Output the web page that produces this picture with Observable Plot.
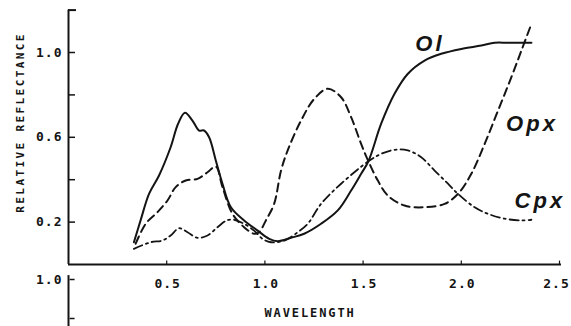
<!DOCTYPE html>
<html><head><meta charset="utf-8">
<script src="https://cdn.jsdelivr.net/npm/d3@7"></script>
<script src="https://cdn.jsdelivr.net/npm/@observablehq/plot@0.6"></script>
<style>
body{margin:0;background:#fff}
#wrap{position:relative;width:571px;height:326px;overflow:hidden}
#wrap svg{position:absolute;left:0;top:0}
[aria-label="ticklabels"], [aria-label="ticklabels"] text{letter-spacing:1px}
[aria-label="xlabel"], [aria-label="xlabel"] text{letter-spacing:1.9px}
[aria-label="ylabel"], [aria-label="ylabel"] text{letter-spacing:2.4px}
[aria-label="serieslabels"], [aria-label="serieslabels"] text{letter-spacing:3px}
</style></head><body><div id="wrap"></div>
<script>
// ---- data ----
const olWavelength = [0.333,0.367,0.410,0.461,0.520,0.558,0.593,0.631,0.665,0.690,0.716,0.750,0.784,0.827,0.894,0.963,1.022,1.065,1.133,1.200,1.286,1.371,1.439,1.490,1.527,1.592,1.660,1.728,1.813,1.898,2.000,2.102,2.170,2.238,2.357];
const olReflectance = [0.105,0.208,0.333,0.420,0.553,0.664,0.716,0.679,0.632,0.632,0.600,0.491,0.381,0.270,0.208,0.160,0.121,0.110,0.126,0.145,0.192,0.255,0.349,0.428,0.487,0.664,0.805,0.900,0.962,0.994,1.017,1.033,1.046,1.046,1.046];

const opxWavelength = [0.342,0.393,0.453,0.504,0.546,0.597,0.657,0.708,0.750,0.784,0.835,0.894,0.945,0.969,1.005,1.047,1.082,1.116,1.184,1.252,1.320,1.388,1.439,1.490,1.527,1.575,1.626,1.711,1.813,1.915,1.983,2.051,2.119,2.187,2.255,2.306,2.357];
const opxReflectance = [0.098,0.192,0.247,0.302,0.365,0.396,0.404,0.435,0.462,0.365,0.239,0.176,0.145,0.151,0.208,0.286,0.443,0.538,0.679,0.782,0.829,0.789,0.695,0.569,0.487,0.396,0.325,0.278,0.270,0.286,0.333,0.428,0.569,0.726,0.884,1.009,1.135];

const cpxWavelength = [0.333,0.418,0.478,0.520,0.563,0.606,0.657,0.708,0.759,0.806,0.843,0.894,0.945,0.988,1.031,1.099,1.167,1.218,1.286,1.388,1.527,1.592,1.660,1.728,1.796,1.864,1.932,1.983,2.068,2.136,2.221,2.306,2.357];
const cpxReflectance = [0.074,0.105,0.113,0.137,0.171,0.152,0.126,0.137,0.176,0.208,0.211,0.192,0.160,0.121,0.105,0.113,0.152,0.192,0.286,0.381,0.487,0.522,0.541,0.538,0.506,0.443,0.381,0.333,0.270,0.239,0.216,0.208,0.211];

const xTicks = [0.5, 1.0, 1.5, 2.0, 2.5];
const xTickLabels = ["0.5", "1.0", "1.5", "2.0", "2.5"];
const yTicks = [0.2, 0.4, 0.6, 0.8, 1.0];
const yTickLabelValues = [0.2, 0.6, 1.0];
const yTickLabels = ["0.2", "0.6", "1.0"];
const seriesNames = ["Ol", "Opx", "Cpx"];
const seriesLabelX = [1.84, 2.36, 2.40];
const seriesLabelY = [1.04, 0.665, 0.30];
// fragment of the panel below (its top ticks)
const lowerTicks = [1.0, 0.8];
const lowerTickLabels = ["1.0", ""];

// ---- build tables ----
const ol = olWavelength.map((x, i) => ({x, y: olReflectance[i]}));
const opx = opxWavelength.map((x, i) => ({x, y: opxReflectance[i]}));
const cpx = cpxWavelength.map((x, i) => ({x, y: cpxReflectance[i]}));
const seriesLabels = seriesNames.map((t, i) => ({t, x: seriesLabelX[i], y: seriesLabelY[i]}));
const xLabelRows = xTicks.map((x, i) => ({x, t: xTickLabels[i]}));
const lastX = xLabelRows.length - 1;

const W = 571, H = 326;
const xRange = [68, 559];
const pxPerX = (xRange[1] - xRange[0]) / 2.5;
const ink = "#141414";
const mono = "DejaVu Sans Mono";
const yTickLen = 7 / pxPerX;
const tickFont = {fontFamily: mono, fontWeight: "bold", fontSize: 13, fill: ink, ariaLabel: () => "ticklabels"};

const main = Plot.plot({
  width: W, height: H,
  marginTop: 0, marginRight: 0, marginBottom: 0, marginLeft: 0,
  x: {domain: [0, 2.5], range: xRange, axis: null},
  y: {domain: [0, 1], range: [264, 52], axis: null},
  style: {background: "transparent", color: ink},
  marks: [
    // axes
    Plot.ruleY([0], {x1: 0, x2: 2.51, stroke: ink, strokeWidth: 2}),
    Plot.ruleX([0], {y1: 0, y2: 1.2, stroke: ink, strokeWidth: 2}),
    Plot.ruleY([1.2], {x1: 0, x2: 8 / pxPerX, stroke: ink, strokeWidth: 2}),
    Plot.ruleY(yTicks, {x1: 0, x2: yTickLen, stroke: ink, strokeWidth: 1.5}),
    Plot.ruleX(xTicks, {y1: 0, y2: 0.016, stroke: ink, strokeWidth: 1.2}),
    Plot.text(yTickLabelValues, {x: 0, y: d => d, text: (d, i) => yTickLabels[i], dx: -6, textAnchor: "end", ...tickFont}),
    Plot.text(xLabelRows.slice(0, lastX), {x: "x", y: 0, text: "t", dx: 1, dy: 19, ...tickFont}),
    Plot.text(xLabelRows.slice(lastX), {x: "x", y: 0, text: "t", dx: -3, dy: 19, ...tickFont}),
    Plot.text(["WAVELENGTH"], {x: 1.225, y: 0, dx: 1, dy: 49, fontFamily: mono, fontWeight: "bold", fontSize: 12,
      fill: ink, ariaLabel: () => "xlabel"}),
    Plot.text(["RELATIVE REFLECTANCE"], {x: 0, y: 0.67, dx: -48, rotate: -90, fontFamily: mono, fontWeight: "bold",
      fontSize: 11, fill: ink, ariaLabel: () => "ylabel"}),
    // curves
    Plot.line(ol, {x: "x", y: "y", curve: "catmull-rom", stroke: ink, strokeWidth: 2}),
    Plot.line(opx, {x: "x", y: "y", curve: "catmull-rom", stroke: ink, strokeWidth: 2, strokeDasharray: "8,5"}),
    Plot.line(cpx, {x: "x", y: "y", curve: "catmull-rom", stroke: ink, strokeWidth: 1.8, strokeDasharray: "9,4,2,4"}),
    Plot.text(seriesLabels, {x: "x", y: "y", text: "t", fontFamily: "Liberation Sans", fontWeight: "bold",
      fontStyle: "italic", fontSize: 22, fill: ink, ariaLabel: () => "serieslabels"})
  ]
});

const lower = Plot.plot({
  width: W, height: H,
  marginTop: 0, marginRight: 0, marginBottom: 0, marginLeft: 0,
  x: {domain: [0, 2.5], range: xRange, axis: null},
  y: {domain: [0.8, 1.0], range: [318, 279], axis: null},
  style: {background: "transparent", color: ink},
  marks: [
    Plot.ruleX([0], {y1: 1.02, y2: 0.6, stroke: ink, strokeWidth: 2}),
    Plot.ruleY(lowerTicks, {x1: 0.008, x2: 0.008 + 5 / pxPerX, stroke: ink, strokeWidth: 1.5}),
    Plot.text(lowerTicks, {x: 0, y: d => d, text: (d, i) => lowerTickLabels[i], dx: -6, textAnchor: "end", ...tickFont})
  ]
});

const wrap = document.getElementById("wrap");
wrap.appendChild(lower);
wrap.appendChild(main);
</script></body></html>
